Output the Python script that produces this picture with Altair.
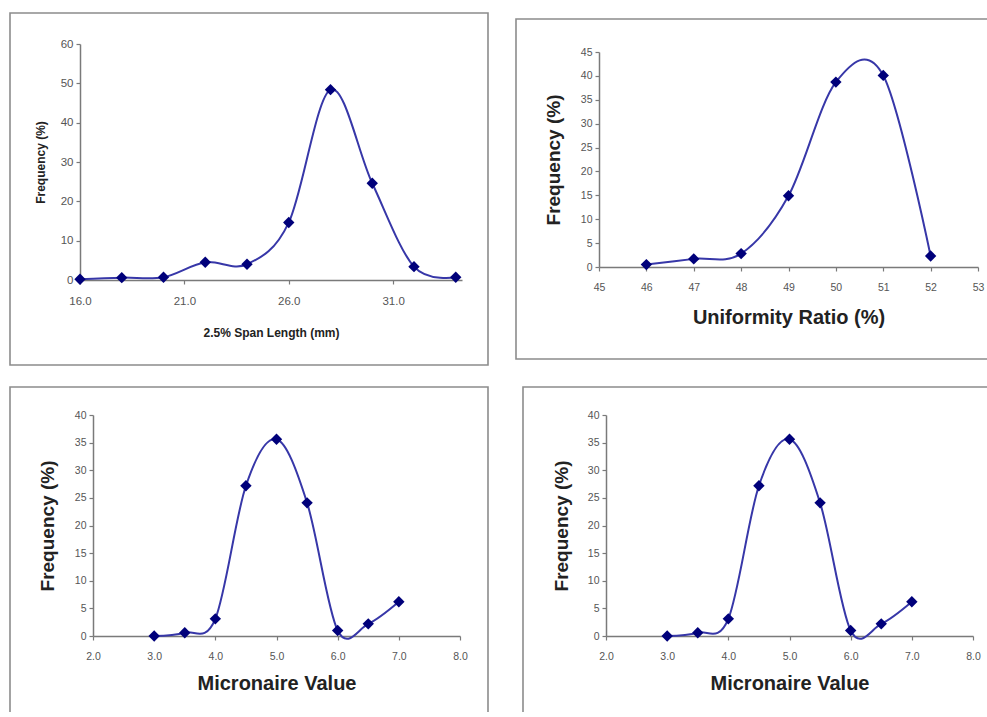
import altair as alt
import pandas as pd

# ---- data ----
span_x = [16, 18, 20, 22, 24, 26, 28, 30, 32, 34]
span_y = [0.2, 0.6, 0.7, 4.5, 4.0, 14.6, 48.4, 24.6, 3.4, 0.7]
span_ticks_x = [16, 21, 26, 31]
span_ticks_y = [0, 10, 20, 30, 40, 50, 60]

ur_x = [46, 47, 48, 49, 50, 51, 52]
ur_y = [0.5, 1.7, 2.8, 14.9, 38.7, 40.1, 2.3]
ur_ticks_x = [45, 46, 47, 48, 49, 50, 51, 52, 53]
ur_ticks_y = [0, 5, 10, 15, 20, 25, 30, 35, 40, 45]

mic_x = [3.0, 3.5, 4.0, 4.5, 5.0, 5.5, 6.0, 6.5, 7.0]
mic_y = [0.0, 0.6, 3.1, 27.2, 35.6, 24.1, 1.0, 2.2, 6.2]
mic_ticks_x = [2, 3, 4, 5, 6, 7, 8]
mic_ticks_y = [0, 5, 10, 15, 20, 25, 30, 35, 40]

W, H = 987, 712
FONT = "Liberation Sans"
LINE = "#3737a8"
MARK = "#00007a"
AXIS = "#7a7a7a"
BOX = "#8c8c8c"


def panel(xs, ys, xdom, ydom, xvals, yvals, xfmt, yfmt, xtitle, ytitle,
          x0, x1, top, bottom, ytcx, xtcy, labsize, ytsize, xtsize):
    df = pd.DataFrame({"x": xs, "y": ys})
    xscale = alt.Scale(domain=xdom, range=[x0, x1], nice=False, zero=False)
    yscale = alt.Scale(domain=ydom, range=[bottom, top], nice=False, zero=False)
    common = dict(
        grid=False, labelFont=FONT, labelFontSize=labsize, labelColor="#555555",
        tickColor=AXIS, tickSize=4, tickWidth=1.2, domainColor=AXIS, domainWidth=1.5,
        titleFont=FONT, titleFontWeight="bold",
        titleColor="#222222", titleAlign="center", titleBaseline="middle",
    )
    xaxis = alt.Axis(orient="bottom", offset=bottom - H, values=xvals, format=xfmt,
                     title=xtitle, titleX=(x0 + x1) / 2, titleY=xtcy - bottom,
                     titleFontSize=xtsize,
                     labelPadding=11, labelFlush=False, labelOverlap=False, **common)
    yaxis = alt.Axis(orient="left", offset=-x0, values=yvals, format=yfmt,
                     title=ytitle, titleX=ytcx - x0, titleY=(top + bottom) / 2,
                     titleFontSize=ytsize,
                     titleAngle=270, labelPadding=3, labelOverlap=False, **common)
    line = alt.Chart(df).mark_line(interpolate="cardinal", color=LINE, strokeWidth=2).encode(
        x=alt.X("x:Q", scale=xscale, axis=xaxis),
        y=alt.Y("y:Q", scale=yscale, axis=yaxis),
    )
    pts = alt.Chart(df).mark_point(shape="diamond", filled=True, size=130,
                                   color=MARK, opacity=1).encode(
        x=alt.X("x:Q", scale=xscale, axis=None),
        y=alt.Y("y:Q", scale=yscale, axis=None),
    )
    return [line, pts]


def box(l, r, t, b):
    return alt.Chart(pd.DataFrame({"k": [0]})).mark_rect(
        fill=None, stroke=BOX, strokeWidth=1.6).encode(
        x=alt.value(l), x2=alt.value(r), y=alt.value(t), y2=alt.value(b))


layers = []
layers += [box(10, 488, 13, 365), box(516, 1100, 19, 359),
           box(10, 488, 387, 800), box(523, 1100, 387, 800)]
layers += panel(span_x, span_y, [16, 34.3], [0, 60], span_ticks_x, span_ticks_y,
                ".1f", "d", "2.5%  Span Length (mm)", "Frequency (%)",
                80, 462, 44, 280, 40, 332, 11.5, 12, 12)
layers += panel(ur_x, ur_y, [45, 53], [0, 45], ur_ticks_x, ur_ticks_y,
                "d", "d", "Uniformity Ratio (%)", "Frequency (%)",
                599, 978, 52, 267, 553, 317, 10.5, 19, 20)
layers += panel(mic_x, mic_y, [2, 8], [0, 40], mic_ticks_x, mic_ticks_y,
                ".1f", "d", "Micronaire Value", "Frequency (%)",
                93, 460, 415, 636, 47, 683, 10.5, 19, 20)
layers += panel(mic_x, mic_y, [2, 8], [0, 40], mic_ticks_x, mic_ticks_y,
                ".1f", "d", "Micronaire Value", "Frequency (%)",
                606, 973, 415, 636, 561, 683, 10.5, 19, 20)

chart = alt.layer(*layers).resolve_scale(x="independent", y="independent").properties(
    width=W, height=H, padding=0, autosize=alt.AutoSizeParams(type="none"),
    background="white",
).configure_view(stroke=None)

chart.save("out.html", embed_options={"renderer": "svg", "actions": False})
